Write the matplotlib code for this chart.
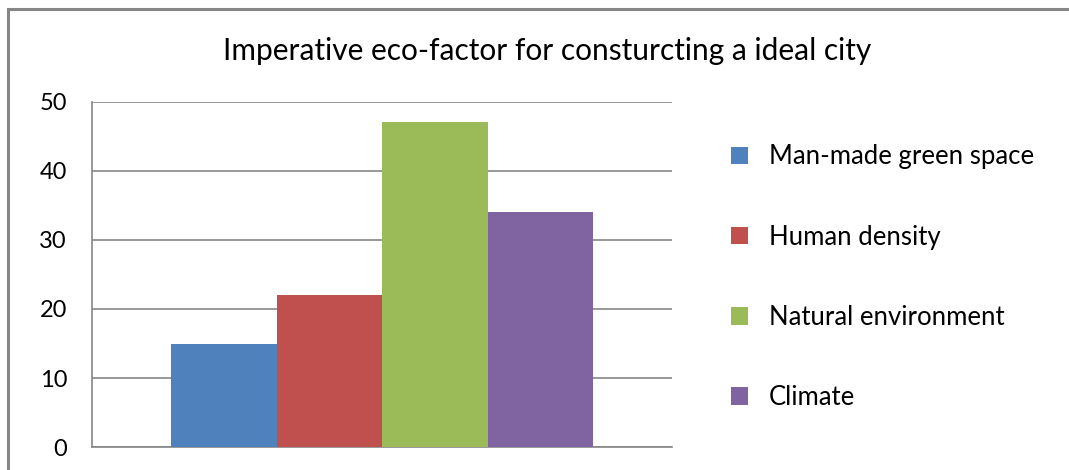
import matplotlib.pyplot as plt
from matplotlib.patches import Rectangle

# ── Data ──────────────────────────────────────────────────────────────
factors = ["Man-made green space", "Human density", "Natural environment", "Climate"]
scores = [15, 22, 47, 34]
colors = ["#4F81BD", "#C0504D", "#9BBB59", "#8064A2"]
yticks = [0, 10, 20, 30, 40, 50]

plt.rcParams["font.family"] = ["Lato", "DejaVu Sans"]
grey = "#868686"

# ── Figure and axes ───────────────────────────────────────────────────
fig = plt.figure(figsize=(10.69, 4.70), dpi=100)
ax = fig.add_axes([0.0861, 0.0483, 0.5426, 0.7357])

# one category, four series side by side, gap on either side
for i, (name, val, col) in enumerate(zip(factors, scores, colors)):
    ax.bar(1.25 + i, val, width=1.0, color=col, label=name, zorder=3)

ax.set_xlim(0, 5.5)
ax.set_ylim(0, 50)
ax.set_yticks(yticks)
ax.set_xticks([])
ax.yaxis.grid(True, color=grey, linewidth=1.2, zorder=0)
ax.tick_params(axis="y", length=0, pad=18, labelsize=17, labelcolor="#000000")

for side in ["top", "right"]:
    ax.spines[side].set_visible(False)
ax.spines["left"].set_color(grey)
ax.spines["bottom"].set_color(grey)
ax.spines["left"].set_linewidth(1.2)
ax.spines["bottom"].set_linewidth(1.2)

# ── Title ─────────────────────────────────────────────────────────────
fig.text(0.512, 0.892, "Imperative eco-factor for consturcting a ideal city",
         ha="center", va="center", fontsize=21.5, color="#000000")

# ── Legend ────────────────────────────────────────────────────────────
fig.legend(loc="center left", bbox_to_anchor=(0.674, 0.41), frameon=False,
           fontsize=18.5, handlelength=0.66, handleheight=0.66,
           handletextpad=0.82, labelspacing=2.15, borderaxespad=0)

# ── Chart border ──────────────────────────────────────────────────────
fig.patches.append(Rectangle((8 / 1069, -0.1), 1.2, (470 - 9) / 470 + 0.1,
                             transform=fig.transFigure, fill=False,
                             edgecolor=grey, linewidth=2.2))

plt.savefig("out.png", dpi=100)
